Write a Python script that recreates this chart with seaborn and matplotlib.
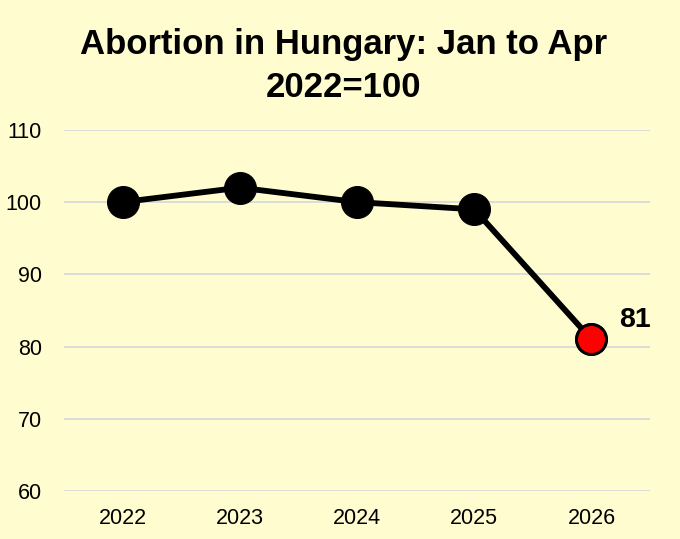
import matplotlib
matplotlib.use("Agg")
import matplotlib.pyplot as plt
import seaborn as sns
import pandas as pd

years = ["2022", "2023", "2024", "2025", "2026"]
index_values = [100, 102, 100, 99, 81]
highlight_year = "2026"
highlight_label = "81"

bg = "#FFFDCF"

sns.set_style("white")
plt.rcParams['font.family'] = ['Liberation Sans', 'DejaVu Sans']
plt.rcParams['text.color'] = 'black'
plt.rcParams['xtick.color'] = 'black'
plt.rcParams['ytick.color'] = 'black'

df = pd.DataFrame({"year": years, "value": index_values})

fig = plt.figure(figsize=(6.8, 5.39), dpi=100, facecolor=bg)
ax = fig.add_axes([0.094, 0.089, 0.862, 0.670])
ax.set_facecolor(bg)

sns.lineplot(data=df, x="year", y="value", color="black", linewidth=4.2,
             marker="o", markersize=23, markeredgecolor="black",
             markerfacecolor="black", ax=ax, zorder=3)
last = df[df["year"] == highlight_year]
sns.scatterplot(data=last, x="year", y="value", color="#FF0000", s=460,
                edgecolor="black", linewidth=2, ax=ax, zorder=4)

ax.annotate(highlight_label, (4, last["value"].iloc[0]), xytext=(20, 14),
            textcoords="offset points", fontsize=20.5, fontweight="bold",
            ha="left", va="center")

ax.set_xlim(-0.5, 4.5)
ax.set_ylim(60, 110)
ax.set_yticks([60, 70, 80, 90, 100, 110])
ax.yaxis.grid(True, color="#D9D9D9", linewidth=1.3)
ax.set_axisbelow(True)
for s in ax.spines.values():
    s.set_visible(False)
ax.tick_params(axis="both", length=0, labelsize=15.5)
ax.tick_params(axis="x", pad=12)
ax.tick_params(axis="y", pad=16)
ax.set_xlabel("")
ax.set_ylabel("")

fig.text(0.505, 0.918, "Abortion in Hungary: Jan to Apr", ha="center",
         va="center", fontsize=25, fontweight="bold")
fig.text(0.505, 0.837, "2022=100", ha="center", va="center",
         fontsize=25, fontweight="bold")

fig.savefig("out.png", dpi=100, facecolor=bg)
